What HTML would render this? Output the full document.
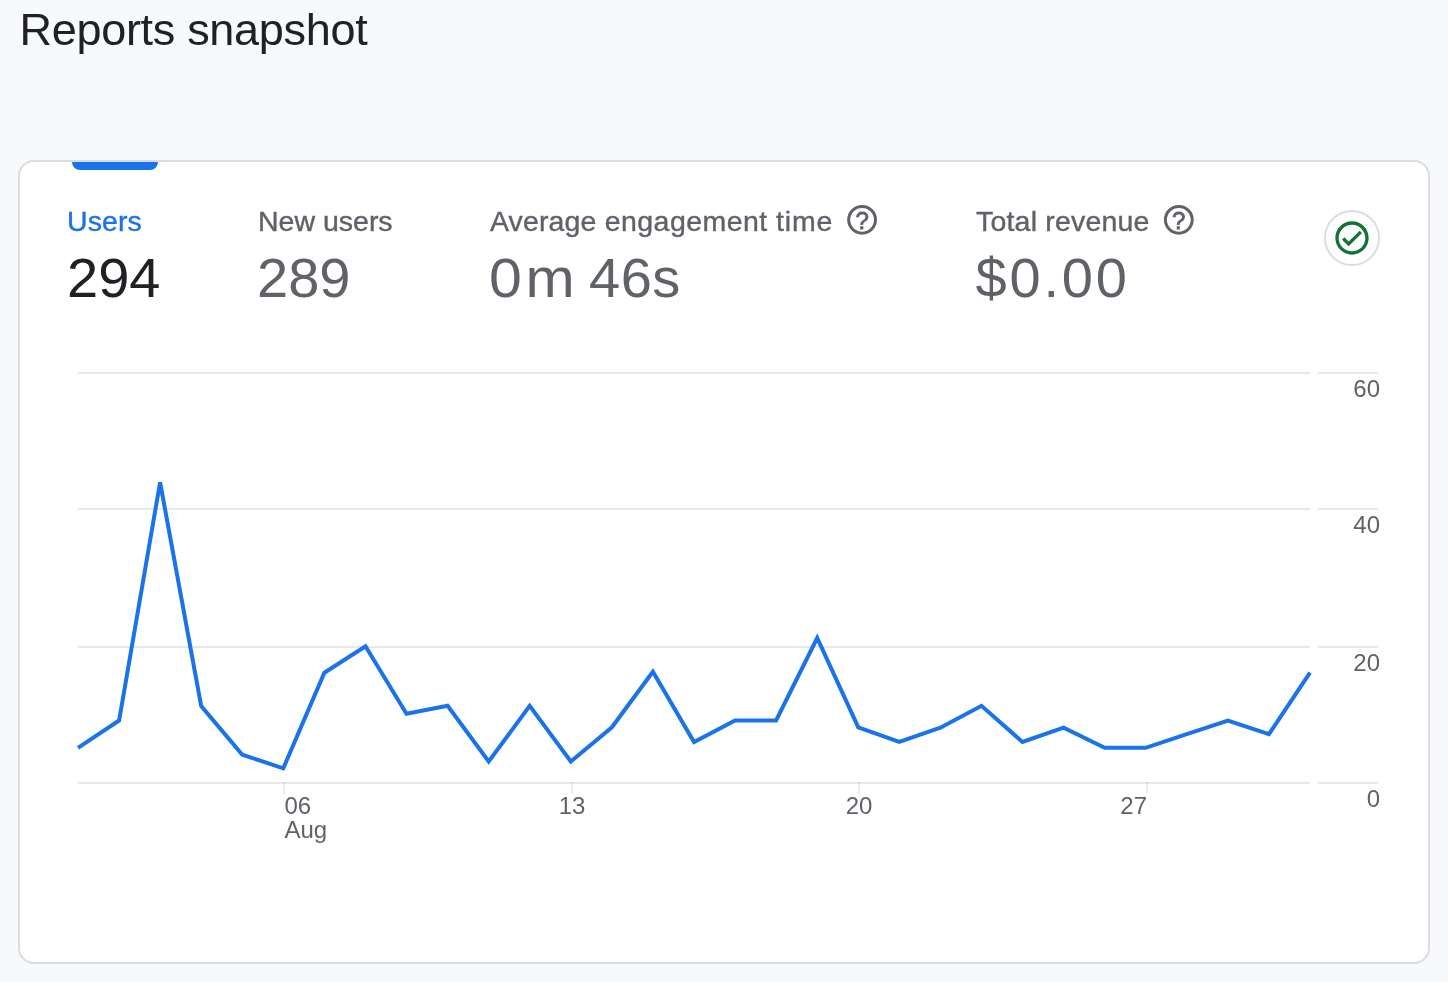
<!DOCTYPE html>
<html lang="en"><head><meta charset="utf-8"><title>Reports snapshot</title>
<style>
html,body{margin:0;padding:0}
body{width:1448px;height:982px;overflow:hidden;background:#f8f9fa;position:relative;font-family:"Liberation Sans",Arial,sans-serif;color:#202124}
.abs{position:absolute;white-space:nowrap;line-height:1}
h1{position:absolute;margin:0;left:19.5px;top:7px;font-size:45px;font-weight:400;line-height:1;color:#202124;white-space:nowrap;letter-spacing:-0.3px}
.card{position:absolute;left:18px;top:160px;width:1408px;height:800px;border:2px solid #dadce0;border-radius:16px;background:#fff}
.tab{position:absolute;left:72px;top:162px;width:86px;height:8px;background:#1a73e8;border-radius:0 0 8px 8px}
.lbl{font-size:28.5px;color:#5f6368;-webkit-text-stroke:0.4px currentColor}
.val{font-size:56px;color:#5f6368}
svg{position:absolute;left:0;top:0}
svg text{font-family:"Liberation Sans",Arial,sans-serif;font-size:24px;fill:#5f6368}
</style></head><body>
<h1>Reports snapshot</h1>
<div class="card"></div>
<div class="tab"></div>
<div class="abs lbl" id="l1" style="left:67px;top:207px;color:#1a73e8;letter-spacing:0.1px">Users</div>
<div class="abs val" id="v1" style="left:67px;top:250px;color:#202124">294</div>
<div class="abs lbl" id="l2" style="left:258px;top:207px;letter-spacing:0">New users</div>
<div class="abs val" id="v2" style="left:257px;top:250px">289</div>
<div class="abs lbl" id="l3" style="left:490px;top:207px;letter-spacing:0.45px"><span style="letter-spacing:0.1px">Average</span> engagement <span style="letter-spacing:0.85px">time</span></div>
<div class="abs val" id="v3a" style="left:489px;top:250px;letter-spacing:3.5px;transform:scaleX(1.055);transform-origin:0 0">0m</div>
<div class="abs val" id="v3b" style="left:589px;top:250px;letter-spacing:0.5px">46s</div>
<div class="abs lbl" id="l4" style="left:976px;top:207px;letter-spacing:0.19px">Total revenue</div>
<div class="abs val" id="v4" style="left:975.5px;top:250px;letter-spacing:2.8px">$0.00</div>
<svg width="1448" height="982" viewBox="0 0 1448 982">
<g fill="none" stroke="#5f6368" stroke-width="3">
<circle cx="862.1" cy="219.8" r="13.4"/><circle cx="1178.8" cy="219.8" r="13.4"/>
</g>
<text x="862.1" y="228.9" text-anchor="middle" style="font-size:24px;stroke:#5f6368;stroke-width:0.8px">?</text>
<text x="1178.8" y="228.9" text-anchor="middle" style="font-size:24px;stroke:#5f6368;stroke-width:0.8px">?</text>
<circle cx="1352" cy="238" r="27" fill="#fff" stroke="#dadce0" stroke-width="2"/>
<g transform="translate(1332,218) scale(1.6667)"><path fill="#137333" d="M12 2C6.48 2 2 6.48 2 12s4.48 10 10 10 10-4.48 10-10S17.52 2 12 2zm0 18c-4.41 0-8-3.59-8-8s3.59-8 8-8 8 3.59 8 8-3.59 8-8 8zm4.59-12.42L10 14.17l-2.59-2.58L6 13l4 4 8-8z"/></g>
<g fill="#000" fill-opacity="0.09">
<rect x="78" y="372" width="1232" height="2"/><rect x="1318" y="372" width="60" height="2"/>
<rect x="78" y="508" width="1232" height="2"/><rect x="1318" y="508" width="60" height="2"/>
<rect x="78" y="646" width="1232" height="2"/><rect x="1318" y="646" width="60" height="2"/>
<rect x="78" y="782" width="1232" height="2"/><rect x="1318" y="782" width="60" height="2"/>
</g><g fill="#000" fill-opacity="0.07"><rect x="283" y="782" width="2" height="12"/><rect x="571" y="782" width="2" height="12"/><rect x="858" y="782" width="2" height="12"/><rect x="1146" y="782" width="2" height="12"/>
</g>
<polyline fill="none" stroke="#1a73e8" stroke-width="4" stroke-linejoin="miter" points="78.0,747.8 119.1,720.5 160.1,482.3 201.2,706.1 242.3,754.7 283.3,768.3 324.4,672.7 365.5,646.3 406.5,713.7 447.6,705.8 488.7,761.5 529.7,705.8 570.8,761.5 611.9,727.3 652.9,671.7 694.0,742.0 735.1,720.5 776.1,720.5 817.2,638.0 858.3,727.3 899.3,742.0 940.4,727.7 981.5,705.8 1022.5,742.0 1063.6,727.7 1104.7,747.8 1145.7,747.8 1186.8,734.2 1227.9,720.5 1268.9,734.2 1310.0,672.7"/>
<text x="1380" y="397" text-anchor="end">60</text>
<text x="1380" y="533" text-anchor="end">40</text>
<text x="1380" y="671" text-anchor="end">20</text>
<text x="1380" y="807" text-anchor="end">0</text>
<text x="284.4" y="814">06</text>
<text x="284.5" y="838">Aug</text>
<text x="572" y="814" text-anchor="middle">13</text>
<text x="859" y="814" text-anchor="middle">20</text>
<text x="1147" y="814" text-anchor="end">27</text>
</svg>
</body></html>
